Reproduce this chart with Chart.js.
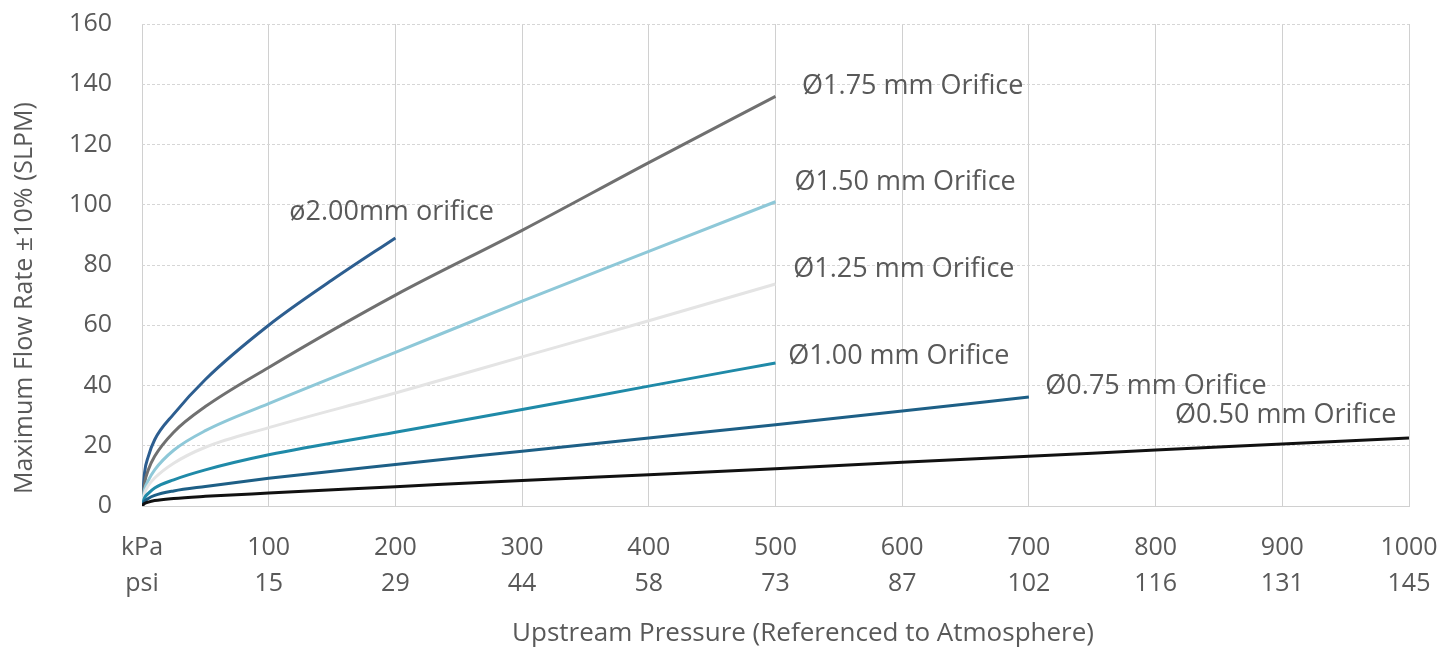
<!DOCTYPE html>
<html>
<head>
<meta charset="utf-8">
<script src="https://cdn.jsdelivr.net/npm/chart.js@4.4.1/dist/chart.umd.min.js"></script>
<style>
  html, body { margin: 0; padding: 0; background: #ffffff; }
  #wrap { width: 1439px; height: 649px; }
</style>
</head>
<body>
<div id="wrap"><canvas id="flowChart" width="1439" height="649"></canvas></div>
<script>
// Upstream pressure (kPa) sample points and flow (SLPM) per orifice
const kpa200 = [0, 2, 5, 10, 25, 50, 100, 150, 200];
const flow200 = [0, 11, 16.5, 22, 30.5, 42, 60, 75, 89];

const kpa500 = [0, 2, 5, 10, 25, 50, 100, 200, 300, 400, 500];
const flow175 = [0, 7.5, 12, 16.5, 24.5, 33, 46, 70, 91.5, 114, 136];
const flow150 = [0, 5.5, 8.5, 12, 18.5, 25, 34, 51, 68, 84.5, 101];
const flow125 = [0, 4.2, 6.8, 9.3, 14.2, 19.5, 26, 37.5, 49.5, 61.5, 73.7];
const flow100 = [0, 2.7, 4.2, 6, 8.7, 12, 17, 24.5, 32, 39.8, 47.5];

const kpa700 = [0, 2, 5, 10, 25, 50, 100, 200, 300, 400, 500, 600, 700];
const flow075 = [0, 1.5, 2.5, 3.5, 5, 6.5, 9.2, 13.8, 18.2, 22.6, 27, 31.5, 36.2];

const kpa1000 = [0, 2, 5, 10, 25, 50, 100, 200, 300, 400, 500, 600, 700, 800, 900, 1000];
const flow050 = [0, 0.8, 1.3, 1.8, 2.5, 3.2, 4.3, 6.4, 8.5, 10.4, 12.4, 14.5, 16.5, 18.6, 20.6, 22.6];

// x axis tick labels (two rows)
const kpaTicks = ['kPa', '100', '200', '300', '400', '500', '600', '700', '800', '900', '1000'];
const psiTicks = ['psi', '15', '29', '44', '58', '73', '87', '102', '116', '131', '145'];

// orifice labels: text, anchor kPa, anchor SLPM, alignment
const labelText = ['ø2.00mm orifice', 'Ø1.75 mm Orifice', 'Ø1.50 mm Orifice', 'Ø1.25 mm Orifice',
                   'Ø1.00 mm Orifice', 'Ø0.75 mm Orifice', 'Ø0.50 mm Orifice'];
const labelKpa = [197, 521, 515, 514, 510, 713, 990];
const labelFlow = [97.6, 139.4, 107.6, 78.7, 49.8, 39.8, 30.2];
const labelAlign = ['center', 'left', 'left', 'left', 'left', 'left', 'right'];

const xTitle = 'Upstream Pressure (Referenced to Atmosphere)';
const yTitle = 'Maximum Flow Rate ±10% (SLPM)';

const textColor = '#595959';
const fontFamily = '"Open Sans", "Noto Sans", sans-serif';

function toPoints(xs, ys) {
    return xs.map((x, i) => ({ x: x, y: ys[i] }));
}

function series(label, xs, ys, color) {
    return {
        label: label,
        data: toPoints(xs, ys),
        borderColor: color,
        backgroundColor: color,
        borderWidth: 3,
        pointRadius: 0,
        fill: false,
        cubicInterpolationMode: 'monotone'
    };
}

// orifice names next to the curves, plus the two axis titles
const chartText = {
    id: 'chartText',
    afterDatasetsDraw(chart) {
        const ctx = chart.ctx;
        const xs = chart.scales.x;
        const ys = chart.scales.y;
        ctx.save();
        ctx.font = '27px ' + fontFamily;
        ctx.fillStyle = textColor;
        ctx.textBaseline = 'middle';
        labelText.forEach((t, i) => {
            ctx.textAlign = labelAlign[i];
            ctx.fillText(t, xs.getPixelForValue(labelKpa[i]), ys.getPixelForValue(labelFlow[i]));
        });

        // axis titles sit slightly off the plot centre in the original
        ctx.textAlign = 'center';
        ctx.font = '26px ' + fontFamily;
        ctx.fillText(xTitle, 803, 634);
        ctx.font = '25px ' + fontFamily;
        ctx.translate(25, 298);
        ctx.rotate(-Math.PI / 2);
        ctx.fillText(yTitle, 0, 0);
        ctx.restore();
    }
};

const ctx = document.getElementById('flowChart').getContext('2d');
new Chart(ctx, {
    type: 'line',
    data: {
        datasets: [
            series('Ø0.50 mm', kpa1000, flow050, '#111111'),
            series('Ø0.75 mm', kpa700, flow075, '#1d5f86'),
            series('Ø1.00 mm', kpa500, flow100, '#1f8aa8'),
            series('Ø1.25 mm', kpa500, flow125, '#e4e4e4'),
            series('Ø1.50 mm', kpa500, flow150, '#8ec8d8'),
            series('Ø1.75 mm', kpa500, flow175, '#707070'),
            series('Ø2.00 mm', kpa200, flow200, '#2d5e90')
        ]
    },
    options: {
        responsive: false,
        animation: false,
        events: [],
        layout: { padding: { top: 24, right: 30, left: 0, bottom: 0 } },
        plugins: {
            legend: { display: false },
            tooltip: { enabled: false }
        },
        scales: {
            x: {
                type: 'linear',
                min: 0,
                max: 1000,
                afterFit(scale) {
                    scale.height = 143;
                    scale.paddingLeft = 0;
                    scale.paddingRight = 0;
                },
                ticks: {
                    stepSize: 100,
                    padding: 24,
                    color: textColor,
                    maxRotation: 0,
                    autoSkip: false,
                    font: { family: fontFamily, size: 25, lineHeight: 1.44 },
                    callback: (value, index) => [kpaTicks[index], psiTicks[index]]
                },
                grid: { color: '#d0d0d0', lineWidth: 1, drawTicks: false },
                border: { display: true, color: '#d0d0d0' }
            },
            y: {
                min: 0,
                max: 160,
                afterFit(scale) {
                    scale.width = 142;
                    scale.paddingTop = 0;
                    scale.paddingBottom = 0;
                },
                ticks: {
                    stepSize: 20,
                    padding: 30,
                    color: textColor,
                    font: { family: fontFamily, size: 25 }
                },
                grid: { color: '#d6d6d6', lineWidth: 1, drawTicks: false },
                border: { display: false, dash: [3, 2] }
            }
        }
    },
    plugins: [chartText]
});
</script>
</body>
</html>
